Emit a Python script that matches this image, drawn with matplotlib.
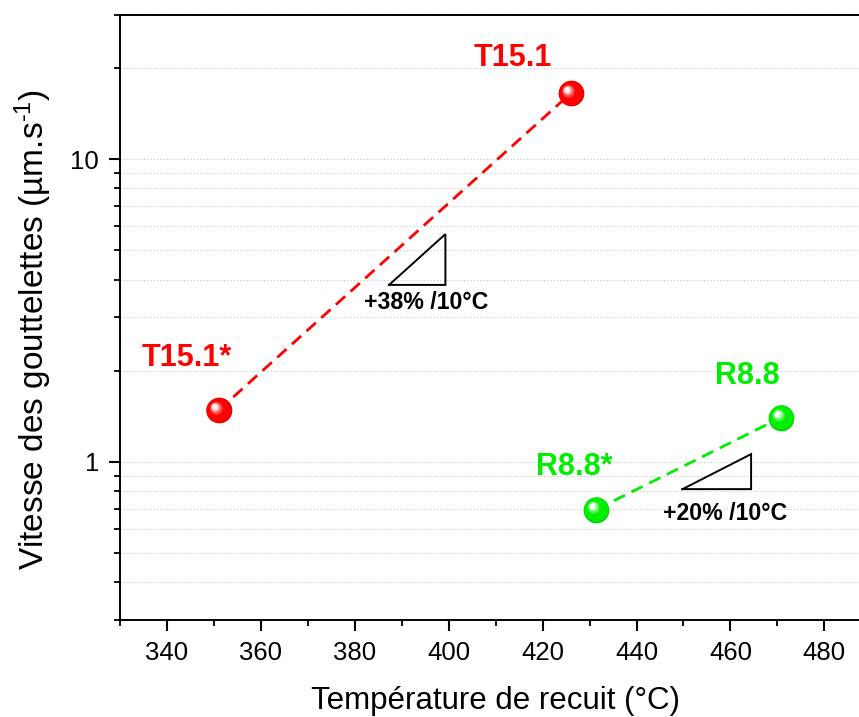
import numpy as np
import matplotlib
matplotlib.use("Agg")
import matplotlib.pyplot as plt
from matplotlib.colors import LinearSegmentedColormap, to_rgb
from matplotlib.transforms import offset_copy
from matplotlib.ticker import LogLocator, NullFormatter, FixedLocator, FixedFormatter

plt.rcParams['font.family'] = ['Liberation Sans', 'DejaVu Sans']
plt.rcParams['mathtext.fontset'] = 'custom'
plt.rcParams['mathtext.rm'] = 'Liberation Sans'
plt.rcParams['mathtext.it'] = 'Liberation Sans'

# Annealing temperature (°C) and droplet velocity (µm/s)
t15_temp = [351, 426]
t15_speed = [1.48, 16.5]
r88_temp = [431.4, 470.8]
r88_speed = [0.695, 1.40]

t15_labels = ["T15.1*", "T15.1"]
r88_labels = ["R8.8*", "R8.8"]

# Slope markers: growth per 10 °C
t15_rate = 0.38
r88_rate = 0.20

RED = "#FF0000"
GREEN = "#00EE00"

fig = plt.figure(figsize=(8.59, 7.17), dpi=100)
ax = fig.add_axes([120 / 859, 97 / 717, (871.3 - 120) / 859, (620 - 14.7) / 717])

ax.set_xlim(330, 490)
ax.set_yscale("log")
ax.set_ylim(0.3, 30)


def ball(ax, x, y, color, size=18.5, zorder=5):
    base = np.array(to_rgb(color))
    dark = base * 0.9
    cmap = LinearSegmentedColormap.from_list(
        "ball", [(0.0, dark), (0.12, base), (0.55, base), (0.8, base + (1 - base) * 0.45), (1.0, (1, 1, 1))]
    )
    n = 18
    hx, hy = -0.32, 0.30  # highlight direction (fraction of radius)
    r = size / 2
    for k in range(n):
        frac = k / (n - 1)
        s = size * (1 - 0.8 * frac)
        dx = hx * r * frac
        dy = hy * r * frac
        tr = offset_copy(ax.transData, fig=ax.figure, x=dx, y=dy, units="points")
        ax.plot([x], [y], "o", ms=s, mew=0, color=cmap(frac),
                transform=tr, zorder=zorder + k * 0.01)


# dashed trend lines
ax.plot(t15_temp, t15_speed, color=RED, lw=2.0, dashes=(4.5, 2.6), zorder=3)
ax.plot(r88_temp, r88_speed, color=GREEN, lw=2.0, dashes=(4.5, 2.6), zorder=3)

for x, y in zip(t15_temp, t15_speed):
    ball(ax, x, y, RED)
for x, y in zip(r88_temp, r88_speed):
    ball(ax, x, y, GREEN)

# point labels
lab_kw = dict(fontsize=22, fontweight="bold", ha="center", va="center")
ax.text(344.1, 2.20, t15_labels[0], color=RED, **lab_kw)
ax.text(413.6, 21.6, t15_labels[1], color=RED, **lab_kw)
ax.text(426.8, 0.963, r88_labels[0], color=GREEN, **lab_kw)
ax.text(463.6, 1.92, r88_labels[1], color=GREEN, **lab_kw)


def slope_triangle(ax, x0, x1, y0, rate):
    y1 = y0 * (1 + rate) ** ((x1 - x0) / 10)
    ax.plot([x0, x1, x1, x0], [y0, y0, y1, y0], color="black", lw=1.4,
            solid_joinstyle="miter", zorder=4)


slope_triangle(ax, 387.3, 399.3, 3.84, t15_rate)
slope_triangle(ax, 449.8, 464.4, 0.812, r88_rate)

ann_kw = dict(fontsize=16.7, fontweight="bold", ha="center", va="center", color="black")
ax.text(395.2, 3.37, f"+{round(t15_rate * 100)}% /10°C", **ann_kw)
ax.text(458.9, 0.673, f"+{round(r88_rate * 100)}% /10°C", **ann_kw)

# axes styling
for side in ("left", "bottom", "top"):
    ax.spines[side].set_linewidth(1.4)
ax.spines["right"].set_visible(False)

ax.set_xticks(np.arange(340, 481, 20))
ax.set_xticks(np.arange(330, 491, 10), minor=True)
ax.yaxis.set_major_locator(FixedLocator([1, 10]))
ax.yaxis.set_major_formatter(FixedFormatter(["1", "10"]))
ax.yaxis.set_minor_locator(LogLocator(base=10, subs=np.arange(2, 10)))
ax.yaxis.set_minor_formatter(NullFormatter())

ax.tick_params(which="major", direction="out", length=8, width=1.5, labelsize=18.5, pad=7)
ax.tick_params(which="minor", direction="out", length=4, width=1.3)
ax.tick_params(axis="x", top=False, which="both")

ax.grid(True, axis="y", which="both", color="#c4c4c4", lw=0.8, linestyle=(0, (1, 2)))
ax.set_axisbelow(True)

ax.set_xlabel("Température de recuit (°C)", fontsize=22.5, labelpad=15)
ax.set_ylabel("Vitesse des gouttelettes (µm.s$^{\\mathregular{\u20101}}$)", fontsize=24)
ax.yaxis.set_label_coords(-0.088, 0.479)

fig.savefig("out.png", dpi=100)
